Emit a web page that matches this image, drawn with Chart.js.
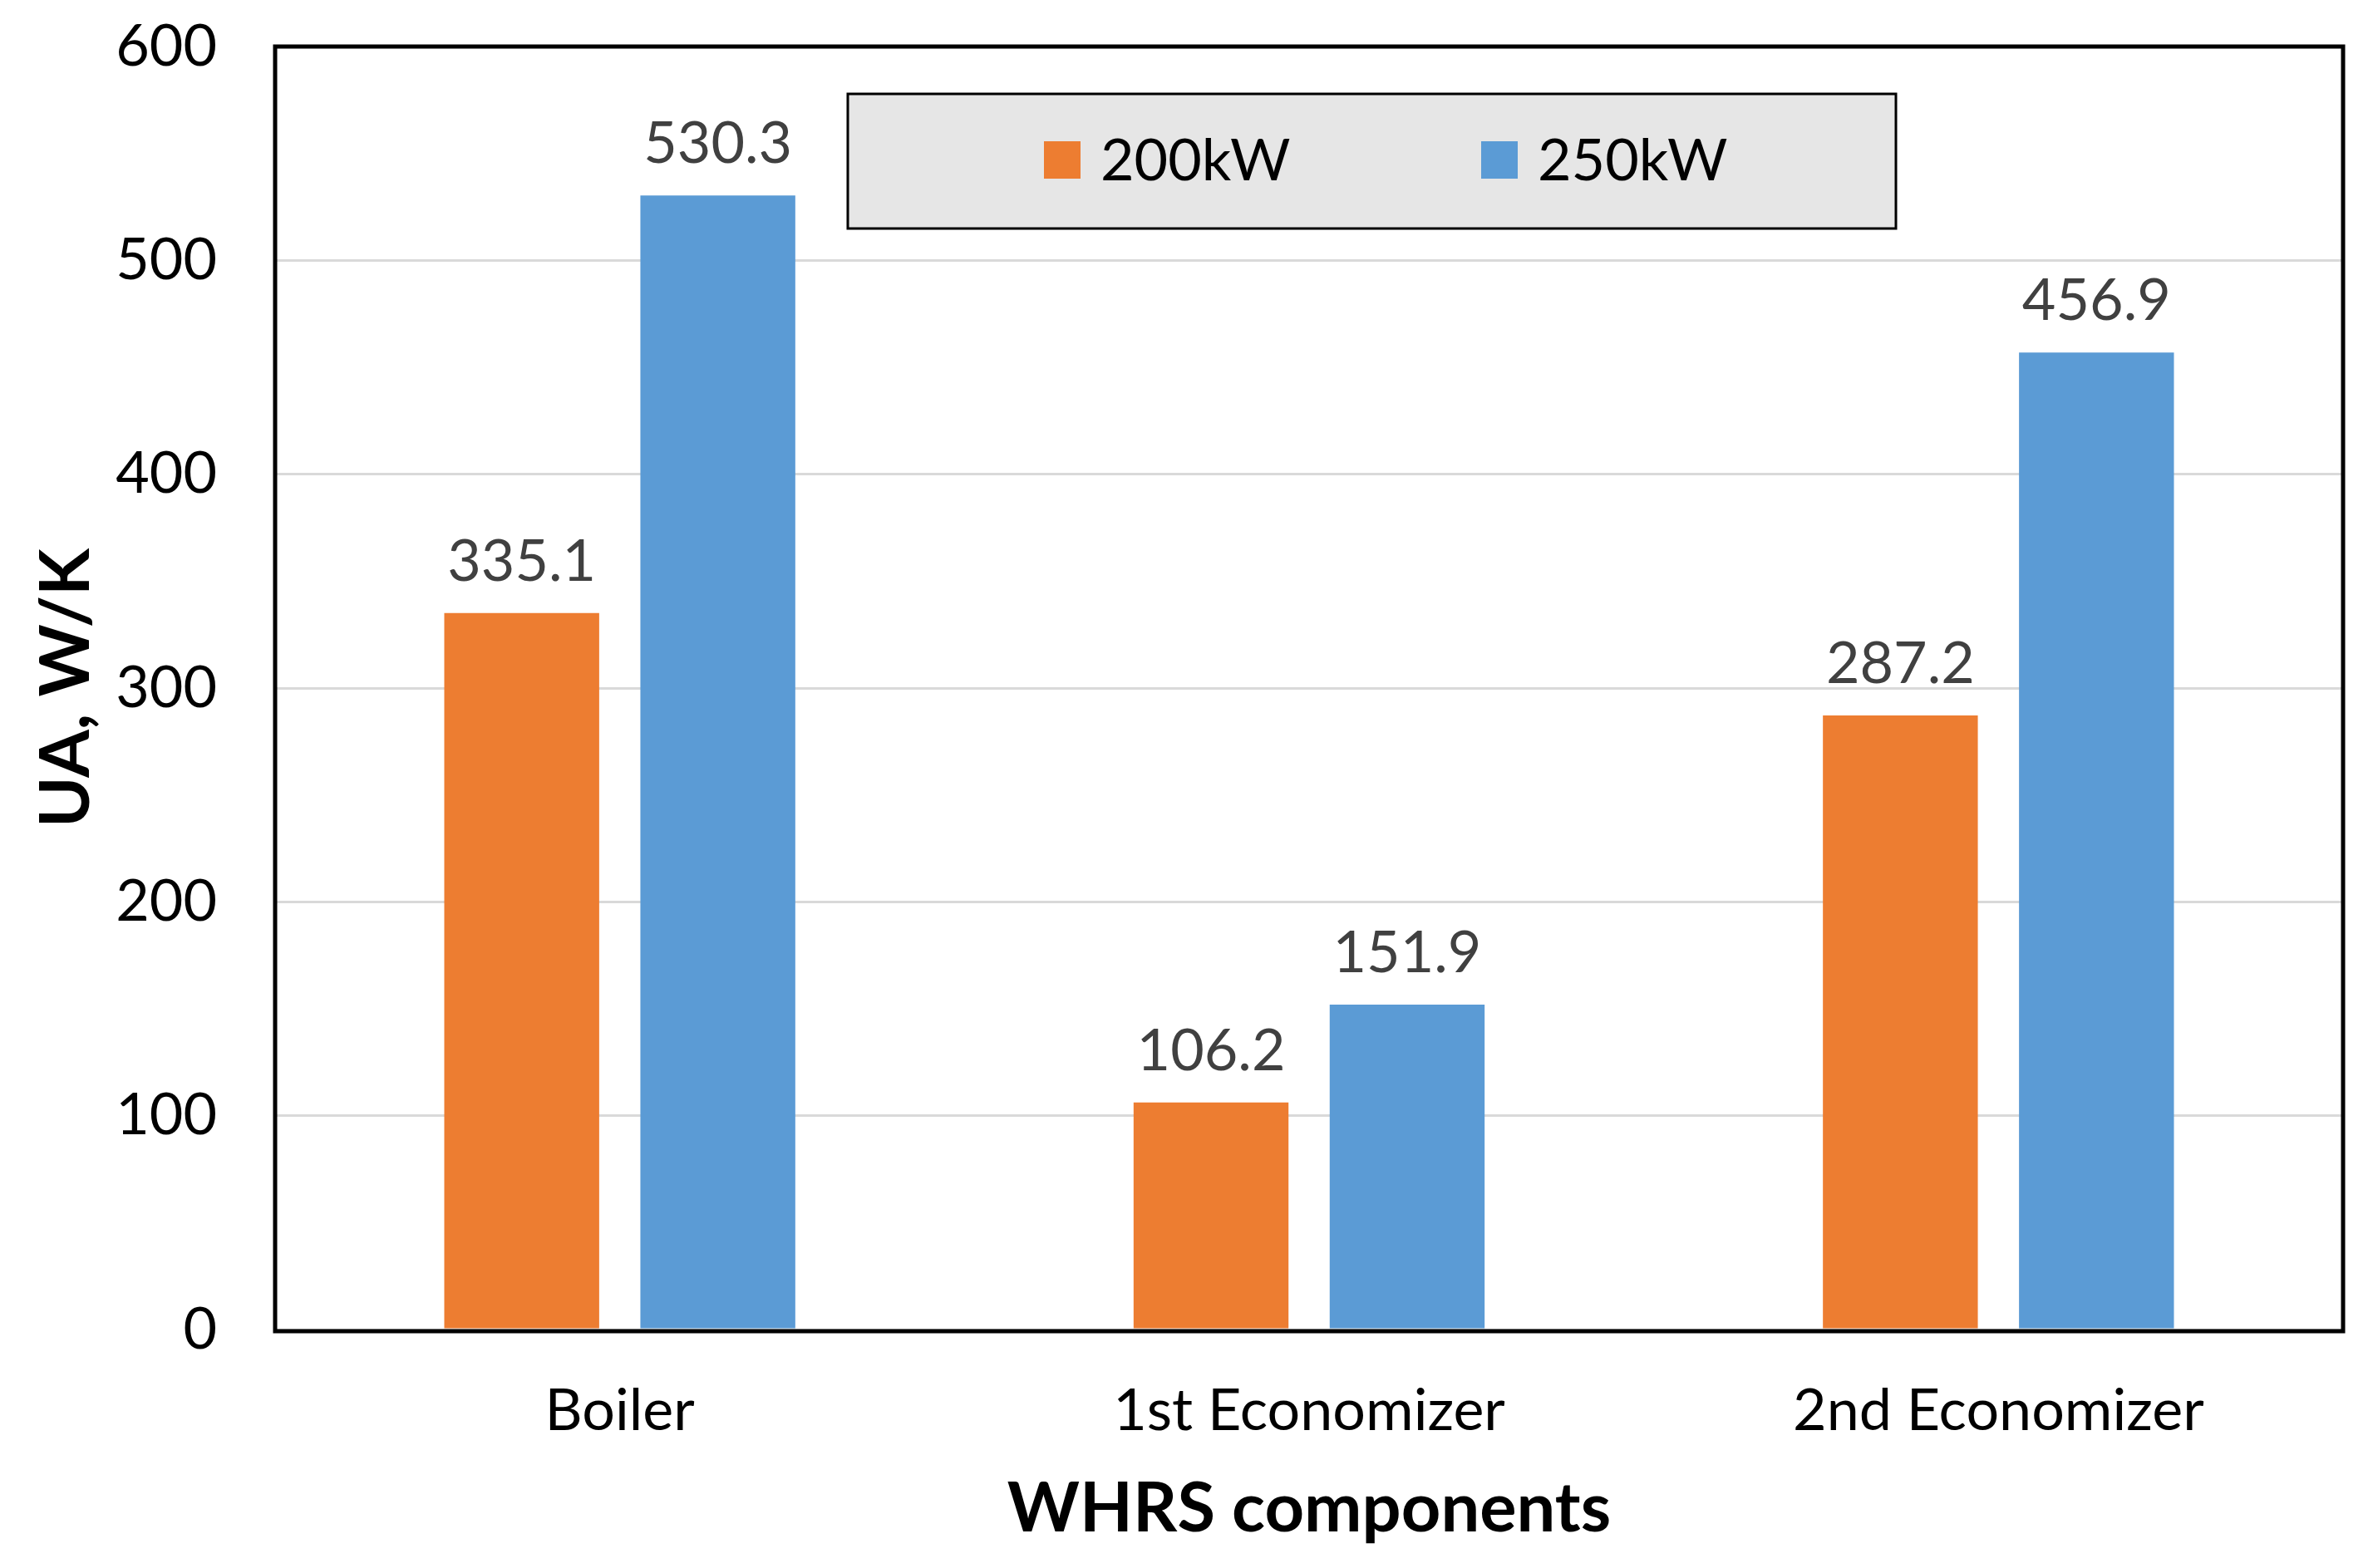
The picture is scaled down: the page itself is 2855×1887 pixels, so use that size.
<!DOCTYPE html>
<html>
<head>
<meta charset="utf-8">
<title>UA - WHRS components</title>
<script src="https://cdn.jsdelivr.net/npm/chart.js@4/dist/chart.umd.min.js"></script>
<style>
    html, body { margin: 0; padding: 0; background: #ffffff; }
    #wrap { width: 2855px; height: 1887px; position: relative; }
</style>
</head>
<body>
<div id="wrap"><canvas id="uaChart"></canvas></div>
<script>
// Dados do gráfico
const categorias = ['Boiler', '1st Economizer', '2nd Economizer']; // Componentes do WHRS
const valores200kW = [335.1, 106.2, 287.2]; // UA para 200kW
const valores250kW = [530.3, 151.9, 456.9]; // UA para 250kW
const rotulosSeries = ['200kW', '250kW']; // Nomes das séries
const ticksY = [0, 100, 200, 300, 400, 500, 600]; // Marcas do eixo Y

const corLaranja = '#ED7D31';
const corAzul = '#5B9BD5';
const fonte = "Lato, 'Open Sans', sans-serif";

// Plugin: rótulos de valor acima das barras
const rotulosBarras = {
    id: 'rotulosBarras',
    afterDatasetsDraw(chart) {
        const ctx = chart.ctx;
        ctx.save();
        ctx.font = `70px ${fonte}`;
        ctx.fillStyle = '#404040';
        ctx.textAlign = 'center';
        ctx.textBaseline = 'alphabetic';
        chart.data.datasets.forEach((ds, i) => {
            chart.getDatasetMeta(i).data.forEach((bar, j) => {
                ctx.fillText(ds.data[j].toFixed(1), bar.x, bar.y - 39);
            });
        });
        ctx.restore();
    }
};

// Plugin: moldura preta da área do gráfico + legenda cinza dentro dela
const molduraLegenda = {
    id: 'molduraLegenda',
    afterDraw(chart) {
        const ctx = chart.ctx;
        const a = chart.chartArea;
        ctx.save();
        // Moldura
        ctx.strokeStyle = '#000000';
        ctx.lineWidth = 5;
        ctx.strokeRect(a.left, a.top, a.right - a.left, a.bottom - a.top + 2);

        // Caixa da legenda
        ctx.fillStyle = '#E6E6E6';
        ctx.fillRect(1020, 113, 1261, 162);
        ctx.lineWidth = 3;
        ctx.strokeRect(1020, 113, 1261, 162);

        // Itens da legenda
        const posX = [1256, 1782];
        ctx.font = `70px ${fonte}`;
        ctx.textAlign = 'left';
        ctx.textBaseline = 'alphabetic';
        chart.data.datasets.forEach((ds, i) => {
            ctx.fillStyle = ds.backgroundColor;
            ctx.fillRect(posX[i], 170, 44, 45);
            ctx.fillStyle = '#000000';
            ctx.fillText(ds.label, posX[i] + 68, 217);
        });
        ctx.restore();
    }
};

const ctx = document.getElementById('uaChart').getContext('2d');
new Chart(ctx, {
    type: 'bar',
    data: {
        labels: categorias,
        datasets: [
            { label: rotulosSeries[0], data: valores200kW, backgroundColor: corLaranja, borderWidth: 0 },
            { label: rotulosSeries[1], data: valores250kW, backgroundColor: corAzul, borderWidth: 0 }
        ]
    },
    options: {
        responsive: true,
        maintainAspectRatio: false,
        animation: false,
        devicePixelRatio: 1,
        categoryPercentage: 0.569, // Largura do grupo de barras
        barPercentage: 0.79, // Largura de cada barra no grupo
        layout: { padding: { left: 0, right: 36, top: 56, bottom: 0 } },
        scales: {
            x: {
                grid: { display: false, drawTicks: false },
                border: { display: false },
                ticks: { color: '#000000', padding: 56, font: { family: fonte, size: 70 } },
                title: {
                    display: true,
                    text: 'WHRS components',
                    color: '#000000',
                    padding: { top: 0, bottom: 21 },
                    font: { family: fonte, size: 83, weight: 'bold' }
                },
                afterFit: (scale) => { scale.height = 287; } // Altura fixa do eixo X
            },
            y: {
                min: 0,
                max: 600,
                afterBuildTicks: (scale) => { scale.ticks = ticksY.map(v => ({ value: v })); },
                grid: { color: '#D9D9D9', lineWidth: 3, drawTicks: false },
                border: { display: false },
                ticks: { color: '#000000', padding: 70, font: { family: fonte, size: 70 } },
                title: {
                    display: true,
                    text: 'UA, W/K',
                    color: '#000000',
                    padding: { top: 30, bottom: 0 },
                    font: { family: fonte, size: 83, weight: 'bold' }
                },
                afterFit: (scale) => {
                    scale.width = 331; // Largura fixa do eixo Y
                    scale.paddingTop = 0; // Evita que o padding dos ticks empurre a área do gráfico
                    scale.paddingBottom = 0;
                }
            }
        },
        plugins: {
            legend: { display: false }, // Legenda desenhada no plugin
            tooltip: { enabled: false }
        }
    },
    plugins: [rotulosBarras, molduraLegenda]
});
</script>
</body>
</html>
